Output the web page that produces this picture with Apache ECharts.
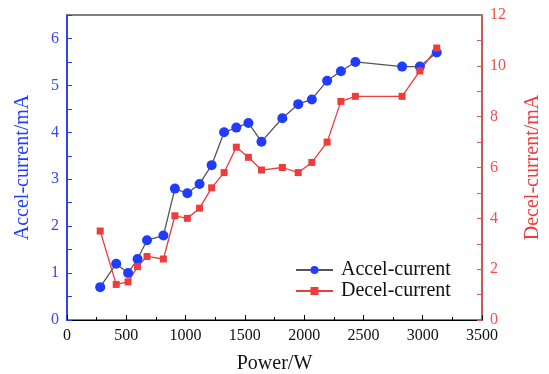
<!DOCTYPE html>
<html>
<head>
<meta charset="utf-8">
<script src="https://cdn.jsdelivr.net/npm/echarts@6/dist/echarts.min.js"></script>
<style>
  html, body { margin: 0; padding: 0; background: #fff; }
  #chart { width: 549px; height: 374px; }
</style>
</head>
<body>
<div id="chart"></div>
<script>
// power values (W), shared by both curves
const power = [280, 415, 515, 595, 675, 813, 910, 1015, 1118, 1220, 1325, 1428, 1530, 1640, 1816, 1950, 2065, 2194, 2310, 2432, 2826, 2976, 3118]
// accel current, mA (left axis)
const accelCurrent = [0.7, 1.2, 1.0, 1.3, 1.7, 1.8, 2.8, 2.7, 2.9, 3.3, 4.0, 4.1, 4.2, 3.8, 4.3, 4.6, 4.7, 5.1, 5.3, 5.5, 5.4, 5.4, 5.7]
// decel current, mA (right axis)
const decelCurrent = [3.5, 1.4, 1.5, 2.1, 2.5, 2.4, 4.1, 4.0, 4.4, 5.2, 5.8, 6.8, 6.4, 5.9, 6.0, 5.8, 6.2, 7.0, 8.6, 8.8, 8.8, 9.8, 10.7]

const font = 'Liberation Serif'
const blue = '#1f3cff'
const red = '#ee3b3b'

const chart = echarts.init(document.getElementById('chart'))

const option = {
    animation: false,
    textStyle: { fontFamily: font },
    grid: {
        left: 67, right: 67, top: 15, bottom: 54,
        outerBoundsMode: 'none',
        show: true, borderColor: '#000', borderWidth: 1.2
    },
    legend: {
        orient: 'vertical',
        left: 290, top: 255,
        itemWidth: 37, itemHeight: 10, itemGap: 1,
        textStyle: { fontFamily: font, fontSize: 20, color: '#111', padding: [0, 0, 0, 3] },
        data: ['Accel-current', 'Decel-current']
    },
    xAxis: {
        type: 'value',
        min: 0, max: 3500, interval: 500,
        name: 'Power/W', nameLocation: 'middle', nameGap: 34,
        nameTextStyle: { fontFamily: font, fontSize: 20, color: '#111' },
        axisLine: { lineStyle: { color: '#000', width: 1.2 } },
        axisTick: { inside: true, length: 5, lineStyle: { color: '#000' } },
        minorTick: { show: true, splitNumber: 2, length: 3, lineStyle: { color: '#000' } },
        axisLabel: { fontFamily: font, fontSize: 16, color: '#111', margin: 8,
            formatter: v => String(v) },
        splitLine: { show: false }
    },
    yAxis: [
        {
            type: 'value',
            min: 0, max: 6.5, interval: 1,
            name: 'Accel-current/mA', nameLocation: 'middle', nameGap: 34,
            nameTextStyle: { fontFamily: font, fontSize: 20, color: blue },
            axisLine: { show: true, lineStyle: { color: blue, width: 1.5 } },
            axisTick: { inside: true, length: 5, lineStyle: { color: blue } },
            minorTick: { show: true, splitNumber: 2, length: 5, lineStyle: { color: blue } },
            axisLabel: { fontFamily: font, fontSize: 16, color: '#3548f0', margin: 8,
                formatter: v => (v % 1 === 0 ? v : '') },
            splitLine: { show: false }
        },
        {
            type: 'value',
            min: 0, max: 12, interval: 2,
            name: 'Decel-current/mA', nameLocation: 'middle', nameGap: 41, nameRotate: 90,
            nameTextStyle: { fontFamily: font, fontSize: 20, color: red },
            axisLine: { show: true, lineStyle: { color: '#e85555', width: 1.5 } },
            axisTick: { inside: true, length: 5, lineStyle: { color: '#e85555' } },
            minorTick: { show: true, splitNumber: 2, length: 5, lineStyle: { color: '#e85555' } },
            axisLabel: { fontFamily: font, fontSize: 16, color: '#f05050', margin: 8 },
            splitLine: { show: false }
        }
    ],
    series: [
        {
            name: 'Accel-current',
            type: 'line',
            yAxisIndex: 0,
            data: power.map((p, i) => [p, accelCurrent[i]]),
            symbol: 'circle', symbolSize: 10,
            itemStyle: { color: blue },
            lineStyle: { color: '#555', width: 1.3 }
        },
        {
            name: 'Decel-current',
            type: 'line',
            yAxisIndex: 1,
            data: power.map((p, i) => [p, decelCurrent[i]]),
            symbol: 'rect', symbolSize: 7,
            itemStyle: { color: red },
            lineStyle: { color: red, width: 1.3 }
        }
    ]
}

chart.setOption(option)
</script>
</body>
</html>
